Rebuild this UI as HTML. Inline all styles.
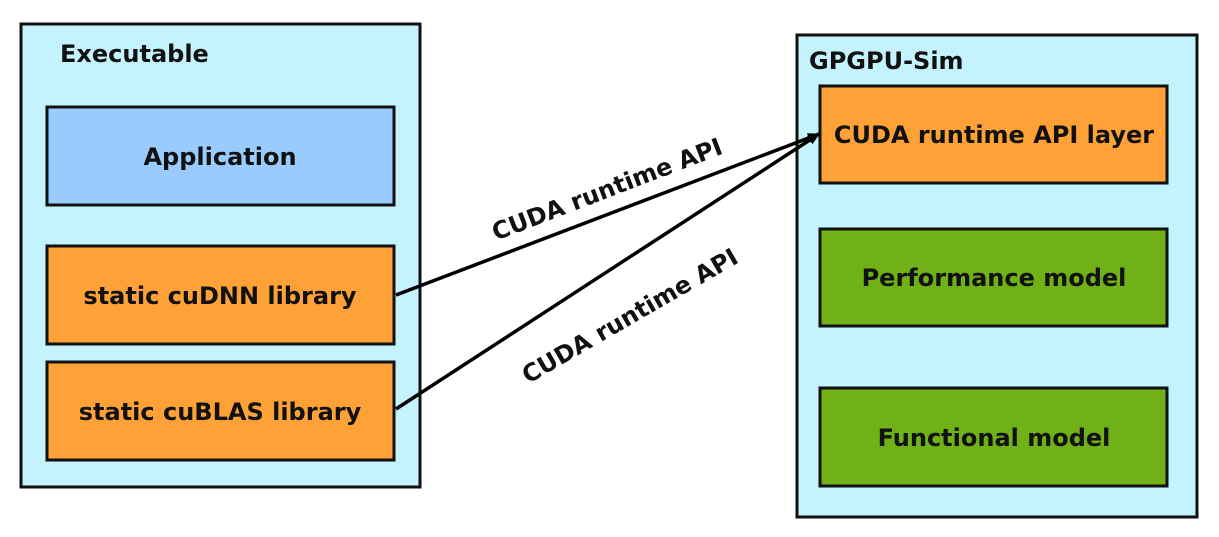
<!DOCTYPE html>
<html><head><meta charset="utf-8"><style>
html,body{margin:0;padding:0;background:#fff;width:1219px;height:537px;overflow:hidden}
text{font-family:"DejaVu Sans","Liberation Sans",sans-serif;font-weight:bold;fill:#111}
</style></head><body>
<svg width="1219" height="537" viewBox="0 0 1219 537" xmlns="http://www.w3.org/2000/svg">
<defs><marker id="a" markerWidth="12" markerHeight="10" refX="11" refY="5" orient="auto" markerUnits="userSpaceOnUse"><path d="M0,0 L12,5 L0,10 z" fill="#000"/></marker></defs>
<rect x="21" y="24" width="399" height="463" fill="#c4f3fd" stroke="#111" stroke-width="3"/>
<text x="60" y="62" font-size="24">Executable</text>
<rect x="47" y="107" width="347" height="98" fill="#99ccfd" stroke="#111" stroke-width="3"/>
<text x="220" y="165" font-size="24" text-anchor="middle">Application</text>
<rect x="47" y="246" width="347" height="98" fill="#fea136" stroke="#111" stroke-width="3"/>
<text x="220" y="304" font-size="24" text-anchor="middle">static cuDNN library</text>
<rect x="47" y="362" width="347" height="98" fill="#fea136" stroke="#111" stroke-width="3"/>
<text x="220" y="420" font-size="24" text-anchor="middle">static cuBLAS library</text>

<rect x="797" y="35" width="400" height="482" fill="#c4f3fd" stroke="#111" stroke-width="3"/>
<text x="809" y="69" font-size="24">GPGPU-Sim</text>
<rect x="820" y="86" width="347" height="97" fill="#fea136" stroke="#111" stroke-width="3"/>
<text x="994" y="143" font-size="24" text-anchor="middle">CUDA runtime API layer</text>
<rect x="820" y="229" width="347" height="97" fill="#6fb117" stroke="#111" stroke-width="3"/>
<text x="994" y="286" font-size="24" text-anchor="middle">Performance model</text>
<rect x="820" y="388" width="347" height="98" fill="#6fb117" stroke="#111" stroke-width="3"/>
<text x="994" y="446" font-size="24" text-anchor="middle">Functional model</text>

<line x1="396" y1="295" x2="819" y2="134" stroke="#000" stroke-width="3.5" marker-end="url(#a)"/>
<line x1="396" y1="409" x2="819" y2="134" stroke="#000" stroke-width="3.5" marker-end="url(#a)"/>
<text font-size="24" text-anchor="middle" transform="translate(610,197) rotate(-21)">CUDA runtime API</text>
<text font-size="24" text-anchor="middle" transform="translate(634,323) rotate(-30)">CUDA runtime API</text>
</svg>
</body></html>
